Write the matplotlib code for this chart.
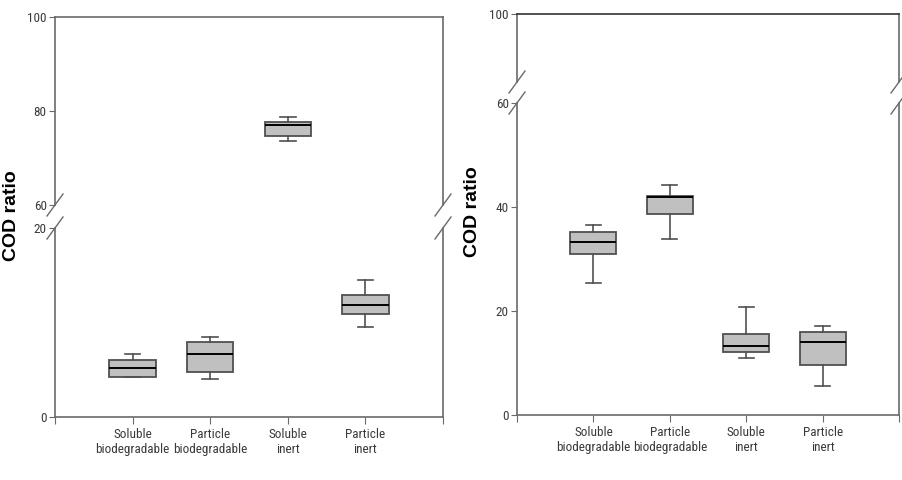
import matplotlib.pyplot as plt

plt.rcParams['font.family'] = ['Roboto Condensed', 'DejaVu Sans']

# categories and box statistics
categories = ['Soluble\nbiodegradable', 'Particle\nbiodegradable', 'Soluble\ninert', 'Particle\ninert']

# left panel
left_whislo = [4.2, 4.05, 73.6, 9.5]
left_q1 = [4.2, 4.8, 74.6, 10.9]
left_med = [5.2, 6.7, 77.0, 11.8]
left_q3 = [6.06, 7.9, 77.7, 12.9]
left_whishi = [6.67, 8.5, 78.7, 14.5]

# right panel
right_whislo = [25.3, 33.8, 11.0, 5.6]
right_q1 = [30.9, 38.7, 12.1, 9.7]
right_med = [33.2, 41.9, 13.2, 14.0]
right_q3 = [35.2, 42.1, 15.5, 16.05]
right_whishi = [36.6, 44.2, 20.7, 17.2]

W, H = 903, 480
fig = plt.figure(figsize=(W / 100, H / 100), dpi=100)


def px_axes(x0, x1, y0, y1):
    # pixel box (from top-left) -> figure axes
    return fig.add_axes([x0 / W, 1 - y1 / H, (x1 - x0) / W, (y1 - y0) / H])


def make_stats(lo, q1, med, q3, hi):
    return [dict(whislo=a, q1=b, med=c, q3=d, whishi=e, fliers=[])
            for a, b, c, d, e in zip(lo, q1, med, q3, hi)]


spine_col = '#6a6a6a'


def draw_panel(ax_up, ax_low, stats, up_lim, low_lim, up_ticks, low_ticks, top_col):
    for ax in (ax_up, ax_low):
        ax.bxp(stats, positions=[1, 2, 3, 4], widths=0.6, patch_artist=True,
               showfliers=False,
               boxprops=dict(facecolor='#c0c0c0', edgecolor='#505050', linewidth=1.3),
               medianprops=dict(color='black', linewidth=1.4),
               whiskerprops=dict(color='#505050', linewidth=1.2),
               capprops=dict(color='#505050', linewidth=1.2),
               capwidths=0.2)
        ax.set_xlim(0, 5)
        for s in ax.spines.values():
            s.set_color(spine_col)
            s.set_linewidth(1.2)
        ax.tick_params(axis='y', direction='out', length=4, color=spine_col,
                       labelsize=9.5, labelcolor='#3a3a3a', pad=2)
    ax_up.set_ylim(*up_lim)
    ax_low.set_ylim(*low_lim)
    ax_up.set_yticks(up_ticks)
    ax_low.set_yticks(low_ticks)
    ax_up.spines['bottom'].set_visible(False)
    ax_up.spines['top'].set_color(top_col)
    ax_up.tick_params(axis='x', bottom=False, labelbottom=False)
    ax_low.spines['top'].set_visible(False)
    ax_low.set_xticks([0, 1, 2, 3, 4, 5])
    ax_low.set_xticklabels([''] + categories + [''])
    ax_low.tick_params(axis='x', direction='out', length=5, color=spine_col,
                       labelsize=9.5, labelcolor='#3a3a3a', pad=3)

    # break marks
    d = dict(transform=fig.transFigure, color=spine_col, lw=1.0, clip_on=False)
    for ax, edge in ((ax_up, 'bottom'), (ax_low, 'top')):
        bb = ax.get_position()
        y = bb.y0 if edge == 'bottom' else bb.y1
        for x in (bb.x0, bb.x1):
            fig.add_artist(plt.Line2D([x - 8 / W, x + 8 / W], [y - 11 / H, y + 11 / H], **d))


# left panel
l_up = px_axes(55, 443, 17, 205)
l_low = px_axes(55, 443, 228, 417)
draw_panel(l_up, l_low, make_stats(left_whislo, left_q1, left_med, left_q3, left_whishi),
           (60, 100), (0, 20), [60, 80, 100], [0, 20], spine_col)

# right panel
r_up = px_axes(517, 899, 14, 82)
r_low = px_axes(517, 899, 103, 415)
draw_panel(r_up, r_low, make_stats(right_whislo, right_q1, right_med, right_q3, right_whishi),
           (87, 100), (0, 60), [100], [0, 20, 40, 60], '#333333')

fig.text(12 / W, 1 - 216 / H, 'COD ratio', rotation=90, ha='center', va='center',
         fontsize=14, fontweight='bold', family='Liberation Sans')
fig.text(473 / W, 1 - 212 / H, 'COD ratio', rotation=90, ha='center', va='center',
         fontsize=14, fontweight='bold', family='Liberation Sans')

fig.savefig('out.png', dpi=100)
